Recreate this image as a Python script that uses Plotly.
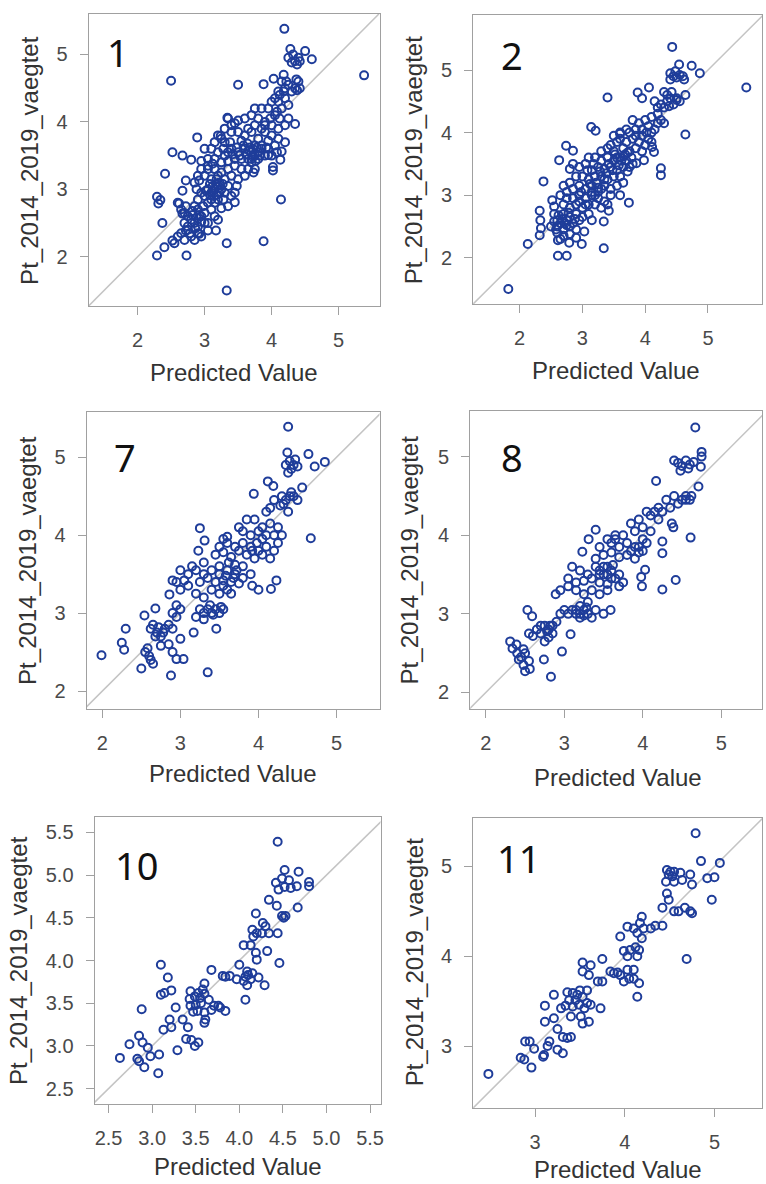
import plotly.graph_objects as go

W, H = 766, 1184

# ---------------- data (predicted value, observed Pt_2014_2019_vaegtet) ----------------
p1_points = [
    (2.50,4.61),(3.50,4.55),(5.38,4.69),(4.19,5.38),(2.89,3.77),(2.52,3.55),(2.67,3.50),(2.80,3.44),
    (2.41,3.23),(2.29,2.89),(2.34,2.84),(2.31,2.79),(2.37,2.50),(2.29,2.02),(2.40,2.14),(2.52,2.24),
    (2.73,2.02),(3.33,2.20),(3.33,1.50),(3.88,2.23),(4.14,2.85),(4.60,4.93),(4.50,5.05),(4.37,4.63),
    (4.38,4.47),(4.35,3.97),(4.13,3.44),(4.02,3.33),(4.02,3.28),(3.88,4.56),(4.03,4.64),(3.34,4.06),
    (3.24,3.79),(2.92,3.13),(2.72,3.13),(2.67,2.98),(2.62,2.79),(2.67,2.64),(2.72,2.39),(2.92,2.34),
    (3.05,2.39),(3.17,2.39),(3.45,2.81),(3.73,3.25),(3.95,3.51),(4.15,3.56),
    (4.28,5.08),(4.25,4.95),(4.30,4.88),(4.35,4.90),(4.38,4.85),(4.32,5.00),(4.42,4.90),(4.40,4.95),
    (4.15,4.60),(4.20,4.50),(4.25,4.55),(4.30,4.45),(4.35,4.50),(4.10,4.45),(4.42,4.50),(4.40,4.60),
    (4.18,4.70),(4.05,4.35),(4.10,4.30),(4.00,4.30),(4.20,4.35),(4.15,4.20),(4.25,4.25),
    (3.95,4.20),(3.85,4.20),(3.75,4.20),(3.70,4.10),(4.05,4.10),(4.12,4.05),(3.90,4.00),(3.80,4.05),
    (3.60,4.05),(3.50,4.02),(3.40,3.95),(3.35,4.05),(3.45,3.98),(4.20,3.95),(4.10,3.90),(4.00,3.95),(4.25,4.05),
    (3.30,3.90),(3.40,3.85),(3.50,3.85),(3.60,3.80),(3.70,3.85),(3.80,3.75),(3.90,3.85),(4.00,3.80),
    (4.10,3.75),(4.20,3.70),(3.25,3.75),(3.15,3.70),(3.20,3.80),(3.55,3.72),(3.65,3.90),(3.75,3.95),
    (3.85,3.90),(3.95,3.72),(4.05,3.65),(3.30,3.70),
    (3.00,3.60),(3.10,3.60),(3.20,3.55),(3.30,3.50),(3.40,3.60),(3.50,3.55),(3.60,3.60),(3.70,3.55),
    (3.75,3.50),(3.80,3.45),(3.85,3.60),(3.90,3.50),(3.95,3.60),(3.65,3.45),(3.55,3.45),(3.45,3.45),
    (3.35,3.42),(3.25,3.40),(3.15,3.45),(3.05,3.45),(2.95,3.42),(3.70,3.40),(3.80,3.55),(3.75,3.65),
    (3.68,3.62),(3.72,3.48),(4.00,3.50),(4.08,3.55),
    (2.95,3.30),(3.05,3.30),(3.15,3.30),(3.25,3.25),(3.35,3.30),(3.45,3.35),(3.55,3.30),(3.65,3.30),
    (3.00,3.20),(3.10,3.15),(3.20,3.20),(3.30,3.15),(3.40,3.20),(3.50,3.15),(3.60,3.20),(2.90,3.20),
    (2.85,3.10),(3.75,3.30),(3.48,3.05),
    (3.05,3.00),(3.10,2.95),(3.15,3.00),(3.20,3.05),(3.12,3.05),(3.18,2.92),(3.25,3.00),(3.30,2.95),
    (3.00,2.90),(2.95,2.95),(3.10,2.85),(3.20,2.85),(3.35,3.05),(3.40,2.90),(2.90,2.85),(3.05,2.80),
    (3.15,2.80),(3.28,2.85),(2.88,3.00),(3.22,2.95),(3.08,3.08),(3.45,2.95),(3.35,2.75),(3.25,2.72),
    (2.60,2.80),(2.65,2.70),(2.70,2.65),(2.75,2.60),(2.85,2.75),(2.90,2.70),(2.95,2.60),(3.00,2.65),
    (3.10,2.70),(3.15,2.60),(2.80,2.55),(2.85,2.50),(2.90,2.45),(2.95,2.52),(2.70,2.50),(2.75,2.45),
    (3.05,2.50),(2.82,2.62),(2.88,2.58),(3.20,2.55),
    (2.60,2.30),(2.65,2.35),(2.70,2.25),(2.80,2.30),(2.85,2.25),(2.90,2.35),(2.75,2.40),(2.55,2.20),(2.95,2.30),
    (3.12,2.98),(3.17,3.08),(3.22,3.10),(3.08,2.92),(3.14,2.90),(3.27,3.08),(3.02,2.98),(3.18,3.15),
    (3.62,3.52),(3.66,3.58),(3.72,3.60),(3.78,3.62),(3.82,3.50),(3.70,3.45),(3.76,3.42),(3.64,3.68),
    (3.58,3.65),(3.48,3.62),(3.52,3.50),(3.42,3.52),(2.82,2.68),(2.86,2.42),(2.78,2.35),(2.92,2.62),
    (2.98,2.75),(2.72,2.75),(3.00,2.50),(3.90,3.95),(3.98,4.05),(4.08,4.15),(4.18,4.45),(4.22,4.60),
    (4.12,4.40),(3.85,3.65),(3.92,3.62),(3.35,3.55),(3.38,3.70),(3.28,3.60),(3.05,3.35),(3.12,3.38),
]

p2_points = [
    (1.82,1.50),(2.13,2.22),(2.38,3.22),(2.32,2.75),(2.33,2.60),(2.34,2.47),(2.32,2.36),(2.52,2.92),
    (2.55,2.82),(2.61,2.03),(2.75,2.03),(2.61,2.28),(2.79,2.24),(2.99,2.22),(3.34,2.15),(3.34,2.58),
    (3.42,2.75),(3.15,2.60),(3.03,2.42),(3.74,2.88),(2.63,3.56),(2.74,3.79),(2.85,3.71),(3.14,4.09),
    (3.21,4.03),(3.40,4.56),(3.88,4.64),(3.95,4.55),(4.06,4.72),(4.64,3.97),(4.25,3.43),(4.25,3.32),
    (5.61,4.72),(4.43,5.37),(4.54,5.09),(4.74,5.07),(4.87,4.95),(4.64,4.60),(4.50,4.52),(4.14,3.69),
    (4.11,3.77),(3.98,3.56),(3.86,3.51),
    (4.40,4.95),(4.45,4.90),(4.50,4.88),(4.55,4.92),(4.60,4.90),(4.40,4.85),(4.48,4.98),(4.62,4.85),
    (4.30,4.65),(4.35,4.50),(4.40,4.55),(4.45,4.45),(4.25,4.45),(4.20,4.40),(4.30,4.40),(4.50,4.55),
    (4.55,4.50),(4.15,4.50),(4.38,4.42),
    (4.00,4.20),(4.10,4.25),(4.20,4.30),(4.25,4.20),(3.90,4.15),(3.80,4.20),(4.05,4.10),(4.15,4.05),
    (3.95,4.05),(3.85,4.05),(3.75,4.00),(4.30,4.15),(4.10,4.00),(3.70,4.05),(3.60,4.00),
    (3.50,3.95),(3.55,3.85),(3.60,3.90),(3.70,3.85),(3.80,3.90),(3.90,3.85),(4.00,3.80),(4.10,3.85),
    (3.45,3.80),(3.40,3.75),(3.65,3.75),(3.75,3.70),(3.85,3.75),(3.95,3.70),(3.30,3.70),(3.50,3.70),
    (4.05,3.90),(3.60,3.98),
    (3.10,3.60),(3.20,3.60),(3.30,3.55),(3.40,3.60),(3.50,3.55),(3.60,3.60),(3.70,3.55),(3.75,3.45),
    (3.80,3.50),(3.65,3.45),(3.55,3.40),(3.45,3.45),(3.35,3.42),(3.25,3.45),(3.15,3.40),(3.05,3.50),
    (2.95,3.45),(2.85,3.50),(2.80,3.42),(3.68,3.65),(3.72,3.38),
    (2.90,3.30),(3.00,3.30),(3.10,3.25),(3.20,3.30),(3.30,3.30),(3.40,3.25),(3.50,3.30),(3.60,3.30),
    (3.65,3.20),(2.80,3.20),(2.85,3.10),(2.95,3.15),(3.05,3.10),(3.15,3.15),(3.25,3.12),(3.35,3.15),
    (3.45,3.10),(3.55,3.15),(2.70,3.15),(2.75,3.05),
    (2.65,3.00),(2.75,2.95),(2.85,2.95),(2.95,3.00),(3.05,2.95),(3.15,3.00),(3.25,2.95),(3.35,2.90),
    (3.45,3.00),(3.20,2.85),(3.30,2.80),(3.10,2.85),(2.90,2.85),(3.00,2.80),(2.80,2.80),(2.70,2.85),
    (3.40,2.85),(3.60,3.00),
    (2.55,2.70),(2.60,2.60),(2.65,2.55),(2.70,2.70),(2.75,2.60),(2.80,2.65),(2.85,2.55),(2.90,2.70),
    (2.95,2.60),(3.00,2.65),(3.10,2.70),(2.50,2.50),(2.60,2.50),(2.70,2.45),(2.80,2.50),(2.90,2.45),
    (2.55,2.58),
    (2.60,2.40),(2.70,2.35),(2.80,2.38),(2.90,2.32),(2.65,2.30),
    (3.15,3.05),(3.20,3.00),(3.25,3.05),(3.30,3.10),(3.22,3.20),(3.12,3.18),(3.35,3.25),(3.28,3.38),
    (3.38,3.35),(3.48,3.40),(3.58,3.48),(3.62,3.55),(3.66,3.62),(3.72,3.68),(3.78,3.60),(3.55,3.60),
    (2.72,2.55),(2.78,2.72),(2.88,2.62),(2.68,2.62),(2.62,2.68),(2.95,2.90),(3.05,2.85),(2.98,3.05),
    (3.08,3.40),(3.18,3.50),(3.85,3.95),(3.95,3.95),(4.02,4.00),(4.20,4.15),(4.35,4.60),(4.42,4.65),
    (2.58,2.45),(2.75,2.52),(3.42,3.50),(3.52,3.65),
]

p7_points = [
    (1.99,2.46),(2.25,2.62),(2.28,2.53),(2.30,2.80),(2.50,2.29),(2.54,2.97),(2.68,3.06),(2.88,2.20),
    (3.35,2.24),(3.46,2.80),(3.17,2.75),(3.04,2.41),(2.95,2.41),(3.00,2.67),(2.86,3.24),(3.25,4.09),
    (3.31,3.93),(3.23,3.80),(4.38,5.39),(3.94,4.53),(4.12,4.69),(4.19,4.63),(4.64,5.04),(4.72,4.88),
    (4.85,4.94),(4.56,4.61),(4.67,3.96),(4.23,3.42),(4.16,3.31),(4.00,3.30),(3.92,3.35),(4.37,5.06),
    (4.35,4.90),(4.40,4.95),(4.45,4.90),(4.42,4.85),(4.50,4.88),(4.38,4.80),(4.47,4.97),
    (4.20,4.45),(4.30,4.50),(4.35,4.45),(4.40,4.50),(4.45,4.50),(4.50,4.45),(4.28,4.38),(4.15,4.35),
    (4.10,4.30),(4.38,4.30),
    (3.85,4.20),(3.95,4.20),(4.05,4.10),(4.15,4.15),(4.25,4.10),(3.80,4.05),(3.90,4.00),(4.00,4.05),
    (4.10,4.00),(4.20,4.00),(3.75,4.10),(4.30,4.00),
    (3.55,3.95),(3.60,3.90),(3.70,3.85),(3.80,3.90),(3.90,3.85),(4.00,3.80),(4.10,3.85),(4.20,3.80),
    (3.50,3.85),(3.45,3.75),(3.55,3.78),(3.65,3.72),(3.75,3.80),(3.85,3.75),(3.95,3.70),(4.05,3.75),
    (4.15,3.70),(4.25,3.90),(3.30,3.65),(3.60,3.98),
    (3.00,3.55),(3.10,3.50),(3.15,3.60),(3.20,3.55),(3.30,3.50),(3.40,3.55),(3.50,3.60),(3.60,3.55),
    (3.70,3.50),(3.80,3.45),(3.90,3.50),(2.90,3.42),(2.95,3.40),(3.05,3.42),(3.25,3.40),(3.35,3.45),
    (3.45,3.40),(3.55,3.42),(3.65,3.40),(3.75,3.38),(3.62,3.65),(3.70,3.62),
    (3.00,3.30),(3.10,3.35),(3.20,3.25),(3.30,3.20),(3.40,3.30),(3.50,3.25),(3.60,3.30),(3.65,3.25),
    (3.55,3.35),(3.25,3.05),(3.30,3.00),(3.35,3.05),(3.40,3.00),(3.45,3.05),(3.50,3.00),(3.55,3.05),
    (3.20,2.95),(3.30,2.92),(2.95,3.10),(3.00,3.05),(2.90,3.00),
    (2.65,2.85),(2.70,2.75),(2.75,2.70),(2.80,2.80),(2.85,2.85),(2.90,2.80),(2.95,2.95),(2.68,2.70),
    (2.75,2.58),(2.62,2.80),(2.85,2.60),(2.90,2.50),
    (2.55,2.50),(2.60,2.45),(2.62,2.40),(2.65,2.35),(2.58,2.55),
    (3.50,3.50),(3.58,3.48),(3.68,3.45),(3.72,3.55),(3.80,3.60),(3.92,3.80),(3.98,3.90),(4.05,3.95),
    (3.38,3.10),(3.42,2.98),(3.52,3.08),(2.78,2.75),(2.72,2.82),(4.32,4.40),(4.42,4.55),
]

p8_points = [
    (4.67,5.37),(4.17,4.69),(4.40,4.95),(4.75,5.06),(4.75,5.00),(4.74,4.87),(4.71,4.62),(4.61,3.97),
    (4.42,3.43),(4.25,3.31),(4.25,3.92),(4.25,3.77),(4.37,4.15),(4.39,4.10),(3.99,3.35),(3.98,3.47),
    (4.03,3.56),(3.40,4.07),(3.31,3.95),(3.23,3.79),(3.59,3.05),(2.83,2.20),(2.74,2.42),(2.97,2.52),
    (3.08,2.74),(2.53,3.05),(2.59,2.97),(2.31,2.65),(2.34,2.56),(2.39,2.61),(2.50,2.27),(2.56,2.30),
    (2.89,3.25),
    (4.45,4.92),(4.50,4.88),(4.55,4.95),(4.60,4.90),(4.65,4.93),(4.48,4.82),(4.58,4.85),
    (4.30,4.45),(4.40,4.50),(4.50,4.45),(4.55,4.50),(4.60,4.45),(4.45,4.40),(4.62,4.50),(4.20,4.35),
    (4.25,4.30),(4.35,4.35),
    (4.05,4.30),(4.10,4.25),(4.15,4.30),(3.95,4.20),(4.00,4.10),(4.10,4.05),(3.90,4.05),(3.85,4.15),
    (3.75,4.00),(4.20,4.20),(3.65,4.00),
    (3.55,3.95),(3.60,3.90),(3.70,3.85),(3.80,3.90),(3.90,3.85),(4.00,3.80),(4.05,3.90),(3.45,3.85),
    (3.50,3.75),(3.60,3.78),(3.70,3.72),(3.80,3.75),(3.90,3.70),(3.95,3.78),(3.40,3.70),(3.65,3.95),
    (3.10,3.60),(3.20,3.55),(3.30,3.50),(3.40,3.60),(3.45,3.55),(3.50,3.60),(3.55,3.50),(3.60,3.55),
    (3.65,3.45),(3.70,3.50),(3.75,3.40),(3.05,3.45),(3.15,3.40),(3.25,3.42),(3.35,3.45),(3.45,3.40),
    (3.55,3.38),(3.62,3.62),(3.70,3.35),
    (2.95,3.30),(3.05,3.35),(3.15,3.30),(3.25,3.25),(3.35,3.30),(3.45,3.25),(3.55,3.30),(3.00,3.05),
    (3.05,3.00),(3.10,3.05),(3.15,3.00),(3.20,2.95),(3.25,3.05),(3.30,3.00),(3.35,2.95),(3.40,3.05),
    (3.50,3.00),(3.20,3.10),(3.30,3.15),(2.95,3.00),
    (2.65,2.80),(2.70,2.75),(2.75,2.85),(2.80,2.80),(2.85,2.85),(2.90,2.90),(2.80,2.70),(2.75,2.65),
    (2.70,2.85),(2.85,2.75),(2.60,2.72),(2.55,2.75),
    (2.45,2.45),(2.50,2.50),(2.40,2.50),(2.55,2.40),(2.48,2.35),
    (3.20,3.00),(3.25,2.98),(3.28,3.08),(3.15,3.05),(3.50,3.50),(3.55,3.60),(3.45,3.50),(3.60,3.45),
    (3.85,3.80),(3.95,3.85),(4.00,3.95),(2.78,2.78),(2.82,2.85),(2.48,2.55),(2.42,2.42),(4.55,4.45),
]

p10_points = [
    (4.44,5.39),(4.52,5.06),(4.68,5.04),(4.42,4.91),(4.49,4.96),(4.57,4.94),(4.52,4.86),(4.45,4.83),
    (4.59,4.85),(4.66,4.87),(4.80,4.92),(4.80,4.87),(4.34,4.71),(4.43,4.64),(4.67,4.62),(4.51,4.50),
    (4.49,4.52),(4.53,4.52),(4.19,4.55),(4.27,4.44),(4.30,4.40),(4.15,4.36),(4.20,4.32),(4.26,4.32),
    (4.34,4.32),(4.44,4.32),(4.16,4.28),(4.05,4.18),(4.13,4.18),(4.19,4.09),(4.20,4.01),(4.32,4.11),
    (4.46,3.97),(4.00,3.95),(4.09,3.87),(4.10,3.83),(4.15,3.85),(4.07,3.81),(4.13,3.78),(4.05,3.76),
    (3.68,3.89),(3.81,3.82),(3.84,3.81),(3.89,3.82),(3.97,3.78),(4.22,3.80),(4.29,3.71),(4.09,3.71),
    (4.07,3.54),(3.44,3.64),(3.53,3.62),(3.58,3.66),(3.60,3.61),(3.55,3.56),(3.49,3.58),(3.43,3.55),
    (3.56,3.50),(3.50,3.48),(3.44,3.47),(3.60,3.73),(3.65,3.54),(3.71,3.47),(3.76,3.47),(3.78,3.45),
    (3.68,3.42),(3.84,3.41),(3.52,3.41),(3.60,3.39),(3.60,3.27),(3.61,3.31),(3.47,3.40),(3.10,3.95),
    (3.18,3.80),(3.10,3.60),(3.14,3.62),(3.22,3.65),(3.27,3.45),(2.88,3.43),(3.20,3.31),(3.13,3.19),
    (3.22,3.22),(3.35,3.31),(3.41,3.22),(3.39,3.08),(3.45,3.07),(3.53,3.04),(3.49,3.00),(3.29,2.95),
    (2.74,3.02),(2.85,3.12),(2.89,3.04),(2.95,2.98),(2.98,2.88),(2.83,2.85),(2.85,2.82),(2.91,2.75),
    (2.63,2.86),(3.08,2.90),(3.07,2.68),
]

p11_points = [
    (4.79,5.37),(4.85,5.06),(5.06,5.04),(4.47,4.96),(4.51,4.94),(4.55,4.94),(4.49,4.91),(4.53,4.89),
    (4.46,4.83),(4.55,4.83),(4.62,4.93),(4.64,4.85),(4.73,4.91),(4.75,4.80),(4.92,4.87),(5.00,4.88),
    (4.97,4.63),(4.47,4.70),(4.49,4.63),(4.42,4.54),(4.55,4.50),(4.60,4.50),(4.67,4.54),(4.73,4.50),
    (4.75,4.48),(4.19,4.44),(4.17,4.37),(4.21,4.31),(4.29,4.31),(4.34,4.34),(4.42,4.34),(4.03,4.33),
    (4.10,4.31),(4.14,4.26),(3.95,4.22),(4.19,4.20),(3.99,4.06),(4.06,4.07),(4.12,4.10),(4.16,4.07),
    (4.03,4.00),(4.14,4.00),(4.69,3.97),(3.75,3.97),(3.53,3.93),(3.62,3.90),(3.53,3.83),(3.60,3.79),
    (3.84,3.83),(3.88,3.81),(3.92,3.82),(3.95,3.79),(4.03,3.85),(4.10,3.85),(4.05,3.75),(4.10,3.75),
    (3.99,3.72),(3.70,3.72),(3.75,3.72),(4.16,3.70),(4.14,3.55),(3.50,3.62),(3.58,3.62),(3.36,3.60),
    (3.42,3.59),(3.47,3.57),(3.53,3.55),(3.45,3.51),(3.38,3.51),(3.34,3.45),(3.42,3.44),(3.49,3.46),
    (3.58,3.48),(3.55,3.42),(3.62,3.46),(3.73,3.42),(3.21,3.57),(3.11,3.45),(3.29,3.42),(3.40,3.33),
    (3.51,3.33),(3.60,3.27),(3.53,3.25),(3.21,3.31),(3.11,3.27),(3.25,3.19),(3.31,3.10),(3.36,3.09),
    (3.40,3.10),(3.16,3.05),(3.14,3.00),(2.89,3.05),(2.94,3.05),(2.99,2.97),(3.09,2.88),(3.10,2.90),
    (3.25,2.96),(3.31,2.92),(2.84,2.87),(2.88,2.85),(2.96,2.76),(2.48,2.69),
]

panel_labels = ["1", "2", "7", "8", "10", "11"]
x_title = "Predicted Value"
y_title = "Pt_2014_2019_vaegtet"
ticks_int = [2, 3, 4, 5]
ticks_half = [2.5, 3.0, 3.5, 4.0, 4.5, 5.0, 5.5]
ticks_half_text = ["2.5", "3.0", "3.5", "4.0", "4.5", "5.0", "5.5"]
ticks_11 = [3, 4, 5]
diag = [0, 7]

# ---------------- layout geometry (pixels) ----------------
panels = [
    dict(pts=p1_points, box=(89, 381, 14, 306), xr=[1.27, 5.61], yr=[1.27, 5.60], xt=ticks_int, yt=ticks_int,
         lab=(118, 52), xtitle=(235, 372), ytitle=(30, 160)),
    dict(pts=p2_points, box=(475, 765, 15, 304), xr=[1.26, 5.86], yr=[1.26, 5.88], xt=ticks_int, yt=ticks_int,
         lab=(514, 55), xtitle=(618, 370), ytitle=(416, 160)),
    dict(pts=p7_points, box=(87, 381, 412, 709), xr=[1.80, 5.55], yr=[1.77, 5.58], xt=ticks_int, yt=ticks_int,
         lab=(125, 457), xtitle=(234, 773), ytitle=(27, 560)),
    dict(pts=p8_points, box=(472, 765, 411, 709), xr=[1.80, 5.52], yr=[1.79, 5.58], xt=ticks_int, yt=ticks_int,
         lab=(514, 457), xtitle=(620, 777), ytitle=(411, 560)),
    dict(pts=p10_points, box=(95, 382, 817, 1104), xr=[2.34, 5.62], yr=[2.32, 5.68], xt=ticks_half, yt=ticks_half,
         xtt=ticks_half_text, ytt=ticks_half_text, lab=(137, 865), xtitle=(239, 1166), ytitle=(18, 960)),
    dict(pts=p11_points, box=(475, 765, 818, 1108), xr=[2.31, 5.53], yr=[2.31, 5.54], xt=ticks_11, yt=ticks_11,
         lab=(521, 858), xtitle=(620, 1169), ytitle=(416, 962)),
]

MARK = "#1f3d9a"
FRAME = "#a0a0a0"
DIAG = "#c4c4c4"
TICKFONT = dict(family="Liberation Sans, Arial, sans-serif", size=20, color="#4a4a4a")
TITLEFONT = dict(family="Liberation Sans, Arial, sans-serif", size=24, color="#333333")

fig = go.Figure()
annotations = []
layout_axes = {}

for i, p in enumerate(panels):
    n = i + 1
    xa = "x" if n == 1 else f"x{n}"
    ya = "y" if n == 1 else f"y{n}"
    xkey = "xaxis" if n == 1 else f"xaxis{n}"
    ykey = "yaxis" if n == 1 else f"yaxis{n}"
    l, r, t, b = p["box"]

    fig.add_trace(go.Scatter(x=diag, y=diag, mode="lines", xaxis=xa, yaxis=ya,
                             line=dict(color=DIAG, width=1.5), hoverinfo="skip", showlegend=False))
    xs = [q[0] for q in p["pts"]]
    ys = [q[1] for q in p["pts"]]
    fig.add_trace(go.Scatter(x=xs, y=ys, mode="markers", xaxis=xa, yaxis=ya, showlegend=False,
                             marker=dict(symbol="circle-open", size=8, color=MARK,
                                         line=dict(width=2, color=MARK))))

    common = dict(showgrid=False, zeroline=False, showline=True, mirror=True, linecolor=FRAME,
                  linewidth=1.2, ticks="outside", ticklen=8, tickcolor=FRAME, tickwidth=1.2,
                  tickfont=TICKFONT, fixedrange=True)
    xd = dict(common, domain=[l / W, r / W], range=p["xr"], anchor=ya, tickmode="array",
              tickvals=p["xt"], ticklabelstandoff=8)
    yd = dict(common, domain=[1 - b / H, 1 - t / H], range=p["yr"], anchor=xa, tickmode="array",
              tickvals=p["yt"], ticklabelstandoff=8)
    if "xtt" in p:
        xd["ticktext"] = p["xtt"]
        yd["ticktext"] = p["ytt"]
    layout_axes[xkey] = xd
    layout_axes[ykey] = yd

    annotations.append(dict(text=panel_labels[i], x=p["lab"][0] / W, y=1 - p["lab"][1] / H,
                            xref="paper", yref="paper", showarrow=False, xanchor="center", yanchor="middle",
                            font=dict(family="Noto Sans, Open Sans, sans-serif", size=38, color="#111111")))
    annotations.append(dict(text=x_title, x=p["xtitle"][0] / W, y=1 - p["xtitle"][1] / H,
                            xref="paper", yref="paper", showarrow=False, xanchor="center", yanchor="middle",
                            font=TITLEFONT))
    annotations.append(dict(text=y_title, x=p["ytitle"][0] / W, y=1 - p["ytitle"][1] / H, textangle=-90,
                            xref="paper", yref="paper", showarrow=False, xanchor="center", yanchor="middle",
                            font=TITLEFONT))

fig.update_layout(width=W, height=H, margin=dict(l=0, r=0, t=0, b=0), paper_bgcolor="white",
                  plot_bgcolor="white", showlegend=False, annotations=annotations, **layout_axes)

fig.write_html("out.html", config={"displayModeBar": False})
